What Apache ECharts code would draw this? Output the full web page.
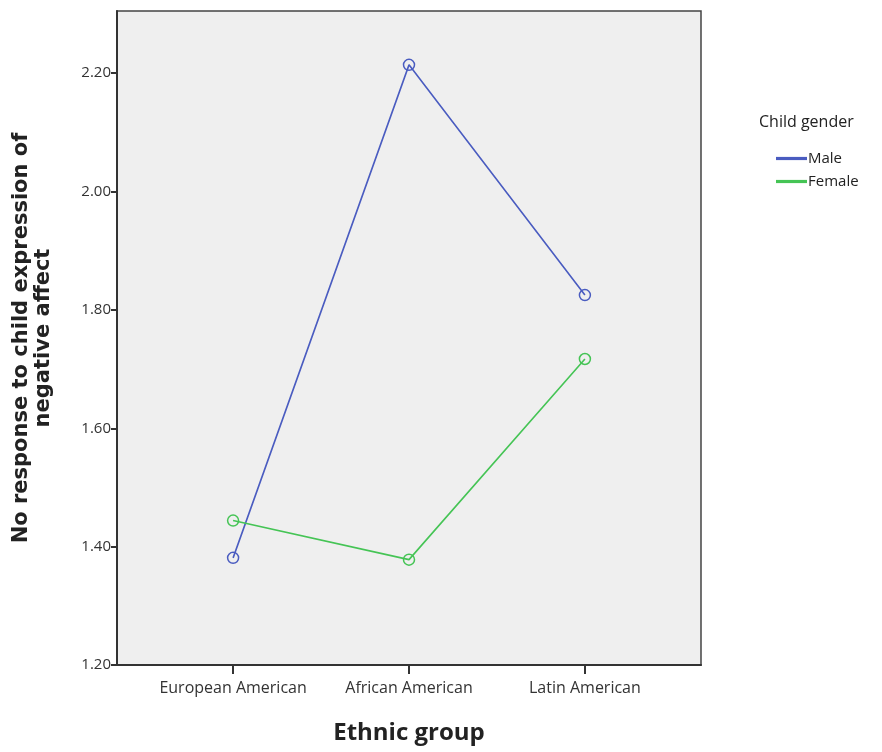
<!DOCTYPE html>
<html>
<head>
<meta charset="utf-8">
<script src="https://cdn.jsdelivr.net/npm/echarts@6/dist/echarts.min.js"></script>
<style>html,body{margin:0;padding:0;background:#fff;}#c{width:882px;height:752px;}</style>
</head>
<body>
<div id="c"></div>
<script>
var categories = ['European American', 'African American', 'Latin American'];
var maleValues = [1.381, 2.214, 1.825];
var femaleValues = [1.444, 1.378, 1.717];
var seriesNames = ['Male', 'Female'];
var yTicks = [1.2, 1.4, 1.6, 1.8, 2.0, 2.2];

function pairs(vals) { return vals.map(function (v, i) { return [i, v]; }); }

var chart = echarts.init(document.getElementById('c'), null, {renderer: 'canvas'});
var idx = categories.map(function (c, i) { return i; });
chart.setOption({
  backgroundColor: '#ffffff',
  animation: false,
  title: {
    text: 'Child gender', left: 754, top: 109,
    textStyle: {fontFamily: 'Open Sans', fontSize: 16, fontWeight: 'normal', color: '#222'}
  },
  legend: {
    left: 771, top: 146, orient: 'vertical', itemGap: 8,
    itemWidth: 29, itemHeight: 1.2, icon: 'rect',
    data: seriesNames,
    textStyle: {fontFamily: 'Open Sans', fontSize: 15, color: '#222', padding: [0, 0, 0, -3]}
  },
  grid: {
    left: 117, top: 11, right: 181, bottom: 87,
    show: true, backgroundColor: '#efefef', borderColor: '#444', borderWidth: 1.5
  },
  xAxis: {
    type: 'value', min: -0.66, max: 2.66,
    name: 'Ethnic group', nameLocation: 'middle', nameGap: 56,
    nameTextStyle: {fontFamily: 'Open Sans', fontSize: 24, fontWeight: 'bold', color: '#222'},
    axisLine: {show: true, onZero: false, lineStyle: {color: '#333', width: 2}},
    axisTick: {show: true, customValues: idx, length: 9, lineStyle: {color: '#333', width: 2}},
    axisLabel: {
      customValues: idx, margin: 15, color: '#333', fontFamily: 'Open Sans', fontSize: 16,
      formatter: function (v) { return categories[Math.round(v)] || ''; }
    },
    splitLine: {show: false}
  },
  yAxis: {
    type: 'value', min: 1.2, max: 2.305,
    axisLine: {show: true, onZero: false, lineStyle: {color: '#333', width: 2}},
    axisTick: {show: true, customValues: yTicks, length: 6, lineStyle: {color: '#333', width: 2}},
    axisLabel: {
      customValues: yTicks, margin: 6, color: '#333', fontFamily: 'Open Sans', fontSize: 15,
      formatter: function (v) { return v.toFixed(2); }
    },
    splitLine: {show: false},
    name: 'No response to child expression of\nnegative affect',
    nameLocation: 'middle', nameGap: 62, nameRotate: 90,
    nameTextStyle: {fontFamily: 'DejaVu Sans', fontSize: 21, fontWeight: 'bold', color: '#222', lineHeight: 22}
  },
  series: [
    {
      name: seriesNames[0], type: 'line', data: pairs(maleValues),
      symbol: 'circle', symbolSize: 11,
      lineStyle: {color: '#4a5cc0', width: 1.6},
      itemStyle: {color: '#4a5cc0', borderColor: '#4a5cc0', borderWidth: 1.5},
      emphasis: {disabled: true}
    },
    {
      name: seriesNames[1], type: 'line', data: pairs(femaleValues),
      symbol: 'circle', symbolSize: 11,
      lineStyle: {color: '#45c455', width: 1.6},
      itemStyle: {color: '#45c455', borderColor: '#45c455', borderWidth: 1.5},
      emphasis: {disabled: true}
    }
  ]
});
chart.setOption({
  series: [
    {itemStyle: {color: 'rgba(0,0,0,0)'}},
    {itemStyle: {color: 'rgba(0,0,0,0)'}}
  ]
});
</script>
</body>
</html>
